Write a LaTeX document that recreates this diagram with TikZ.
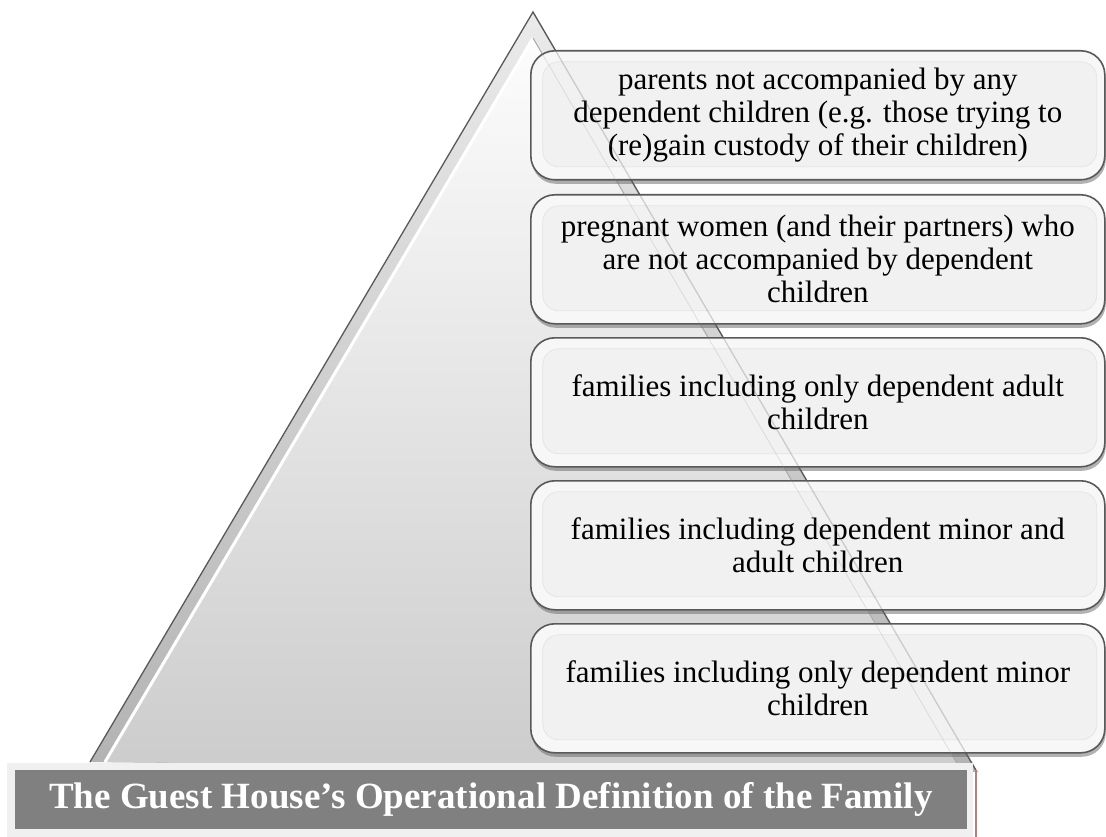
\documentclass[tikz,border=0pt]{standalone}
\usepackage{fontspec}
\setmainfont{Liberation Serif}
\usetikzlibrary{calc,shadows}
\definecolor{rimred}{RGB}{180,128,128}

\tikzset{
  tier/.style={draw=black!65, line width=1.6pt, rounded corners=24pt, fill=white!97!black,
    minimum width=574pt, minimum height=129pt, anchor=north west, align=center, inner sep=0pt,
    font=\fontsize{31}{33}\selectfont,
    drop shadow={shadow xshift=1pt, shadow yshift=-4pt, fill=black!60, opacity=.5},
    path picture={\draw[draw=white!90!black, line width=.8pt, fill=white!94.5!black, rounded corners=16pt]
      ($(path picture bounding box.south west)+(12pt,13pt)$) rectangle
      ($(path picture bounding box.north east)+(-8pt,-11pt)$);}},
  edgeline/.style={draw=black!65, line width=1.3pt},
}

\begin{document}
\begin{tikzpicture}[x=1pt, y=-1pt]
  \useasboundingbox (0,0) rectangle (1106,837);

  % pyramid
  \coordinate (apex) at (533,12);
  \coordinate (baseL) at (90,762);
  \coordinate (baseR) at (977,772);
  \coordinate (apexIn) at (533,38);
  \coordinate (baseLIn) at (105,762);
  \coordinate (baseRIn) at (962,772);
  \shade[top color=white!92!black, bottom color=white!70!black] (apex) -- (baseL) -- (baseR) -- cycle;
  \shade[top color=white!99!black, bottom color=white!80!black] (apexIn) -- (baseLIn) -- (baseRIn) -- cycle;
  \draw[white, line width=3pt] (apexIn) -- (baseLIn);
  \draw[white!70!black, line width=1pt] (apexIn) -- (baseRIn);
  \draw[edgeline, line join=miter] (baseL) -- (apex) -- (baseR);

  % tiers
  \node[tier] (t1) at (530,50)  {parents not accompanied by any\\dependent children (e.g. those trying to\\(re)gain custody of their children)};
  \node[tier] (t2) at (530,194) {pregnant women (and their partners) who\\are not accompanied by dependent\\children};
  \node[tier] (t3) at (530,337) {families including only dependent adult\\children};
  \node[tier] (t4) at (530,480) {families including dependent minor and\\adult children};
  \node[tier] (t5) at (530,623) {families including only dependent minor\\children};

  % pyramid edge seen through the tiers
  \draw[edgeline, opacity=.25] (apex) -- (baseR);
  \draw[white!60!black, line width=.8pt, opacity=.25] (apexIn) -- (baseRIn);

  % title bar
  \node[fill=white!94!black, minimum width=966pt, minimum height=74pt, inner sep=0pt] (titlebox) at (490,800) {};
  \node[fill=black!50, minimum width=952pt, minimum height=59pt, inner sep=0pt, text=white,
    font=\bfseries\fontsize{37}{40}\selectfont] (title) at (491,799.5) {The Guest House’s Operational Definition of the Family};
  \draw[rimred, line width=1.5pt] (titlebox.north east) ++(3,7) -- ++(0,70);
\end{tikzpicture}
\end{document}
